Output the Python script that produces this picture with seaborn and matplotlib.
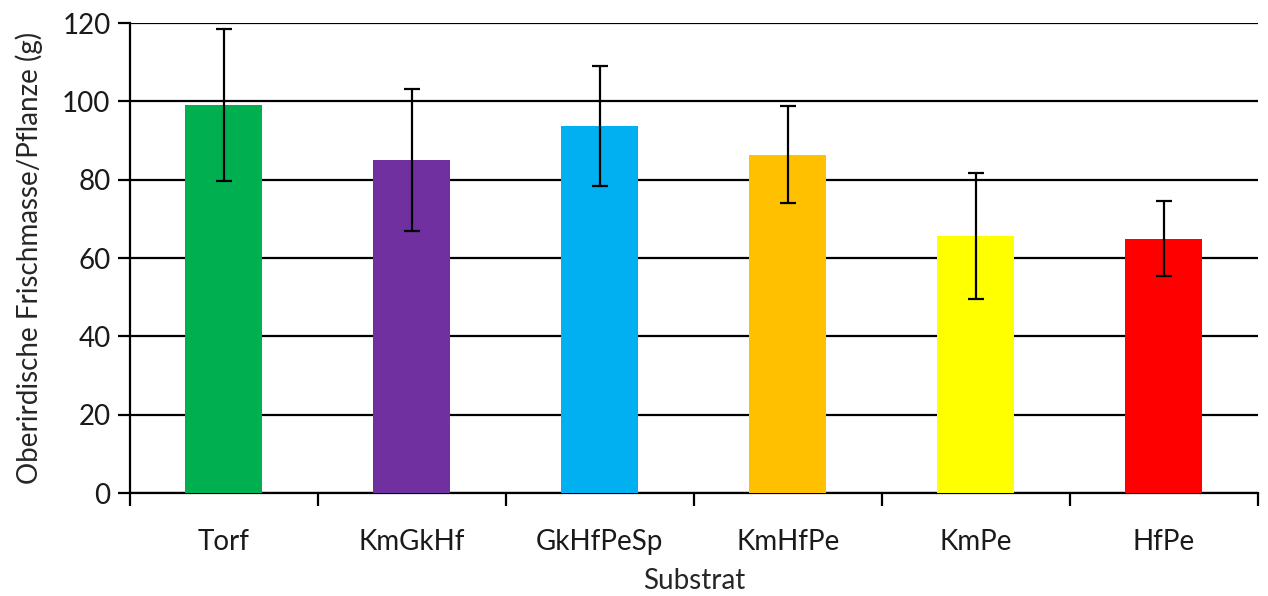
import matplotlib
matplotlib.use("Agg")
import matplotlib.pyplot as plt
import numpy as np
import pandas as pd
import seaborn as sns

substrate = ["Torf", "KmGkHf", "GkHfPeSp", "KmHfPe", "KmPe", "HfPe"]
fresh_mass = [99.0, 85.0, 93.7, 86.4, 65.7, 64.9]
std_err = [19.4, 18.2, 15.4, 12.4, 16.1, 9.6]
bar_colors = ["#00b050", "#7030a0", "#00b0f0", "#ffc000", "#ffff00", "#ff0000"]

sns.set_style("white")
plt.rcParams["font.family"] = ["Lato", "DejaVu Sans"]

df = pd.DataFrame({"Substrat": substrate, "mass": fresh_mass})

fig = plt.figure(figsize=(12.68, 5.96), dpi=100)
ax = fig.add_axes([0.1025, 0.1728, 0.8895, 0.7886])

sns.barplot(data=df, x="Substrat", y="mass", hue="Substrat", palette=bar_colors,
            saturation=1, width=0.41, errorbar=None, legend=False, ax=ax,
            zorder=3, linewidth=0)
ax.errorbar(np.arange(len(substrate)), fresh_mass, yerr=std_err, fmt="none",
            ecolor="black", elinewidth=1.6, capsize=6, capthick=1.6, zorder=4)

ax.set_ylim(0, 120)
ax.set_xlim(-0.5, len(substrate) - 0.5)
ax.set_yticks(np.arange(0, 121, 20))
ax.yaxis.grid(True, color="black", linewidth=1.6)
ax.set_axisbelow(True)

ax.set_xticks(np.arange(-0.5, len(substrate), 1), minor=True)
ax.tick_params(axis="x", which="major", bottom=True, length=0, pad=26, labelsize=20)
ax.tick_params(axis="x", which="minor", bottom=True, length=9, width=1.6,
               color="black", direction="out")
ax.tick_params(axis="y", left=True, length=9, width=1.6, color="black",
               direction="out", labelsize=20, pad=5)
ax.tick_params(labelcolor="#1a1a1a", which="both")

for s in ["top", "right"]:
    ax.spines[s].set_visible(False)
for s in ["left", "bottom"]:
    ax.spines[s].set_color("black")
    ax.spines[s].set_linewidth(1.6)

ax.set_xlabel("Substrat", fontsize=20, labelpad=9)
ax.set_ylabel("Oberirdische Frischmasse/Pflanze (g)", fontsize=20, labelpad=14)

fig.savefig("out.png", dpi=100)
